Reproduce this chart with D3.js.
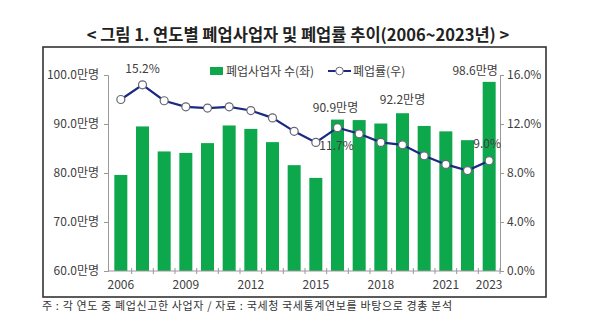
<!DOCTYPE html>
<html><head><meta charset="utf-8">
<script src="https://cdn.jsdelivr.net/npm/d3@7"></script>
<style>body{margin:0;background:#fff;}svg{display:block;font-family:"Noto Sans CJK KR","Noto Sans",sans-serif;}</style>
</head><body><svg id="c" width="600" height="323"></svg>
<script>
const years = [2006,2007,2008,2009,2010,2011,2012,2013,2014,2015,2016,2017,2018,2019,2020,2021,2022,2023];
const closures = [79.6,89.5,84.4,84.1,86.1,89.7,89.0,86.3,81.6,79.0,90.9,90.8,90.1,92.2,89.6,88.5,86.7,98.6];
const rates = [14.0,15.2,13.9,13.4,13.3,13.4,13.1,12.5,11.4,10.5,11.7,11.2,10.5,10.3,9.4,8.7,8.2,9.0];
const leftTicks = [60,70,80,90,100];
const rightTicks = [0,4,8,12,16];
const xTickYears = [2006,2009,2012,2015,2018,2021,2023];
const barLabels = [{year:2016,text:"90.9만명"},{year:2019,text:"92.2만명"},{year:2023,text:"98.6만명"}];
const rateLabels = [{year:2007,text:"15.2%"},{year:2016,text:"11.7%"},{year:2023,text:"9.0%"}];

const svg = d3.select("#c");
const green = "#0ea84c", navy = "#1b2a80", txt = "#404040";

svg.append("text").attr("x",298).attr("y",41).attr("text-anchor","middle")
  .attr("font-size",16.5).attr("font-weight",700).attr("fill","#222")
  .text("< 그림 1. 연도별 폐업사업자 및 폐업률 추이(2006~2023년) >");
svg.append("rect").attr("x",43).attr("y",47).attr("width",503).attr("height",250)
  .attr("fill","none").attr("stroke","#333").attr("stroke-width",1.6);

const x = d3.scaleBand().domain(years).range([110,500]).paddingInner(0.4).paddingOuter(0.2);
const yL = d3.scaleLinear().domain([60,100]).range([271,75]);
const yR = d3.scaleLinear().domain([0,16]).range([271,75]);

svg.append("g").selectAll("rect").data(years).join("rect")
  .attr("x",d=>x(d)).attr("width",x.bandwidth())
  .attr("y",(d,i)=>yL(closures[i])).attr("height",(d,i)=>yL(60)-yL(closures[i]))
  .attr("fill",green);

const axL = svg.append("g").attr("transform","translate(108,0)")
  .call(d3.axisLeft(yL).tickValues(leftTicks).tickSize(4).tickFormat(d=>d.toFixed(1)+"만명"));
const axR = svg.append("g").attr("transform","translate(500,0)")
  .call(d3.axisRight(yR).tickValues(rightTicks).tickSize(4).tickFormat(d=>d.toFixed(1)+"%"));
const axX = svg.append("g").attr("transform","translate(0,271)")
  .call(d3.axisBottom(x).tickValues(xTickYears).tickSize(0).tickPadding(9));
[axL,axR,axX].forEach(a=>{
  a.selectAll("path,line").attr("stroke","#999");
  a.selectAll("text").attr("fill",txt).attr("font-size",12).attr("font-family","'Noto Sans CJK KR',sans-serif");
});
axX.select("path").attr("d","M108,0H500");
axL.selectAll("text").attr("dx",-2);
const step = x.step();
svg.append("g").selectAll("line").data(years).join("line")
  .attr("x1",d=>x(d)+x.bandwidth()/2+step/2).attr("x2",d=>x(d)+x.bandwidth()/2+step/2)
  .attr("y1",268).attr("y2",274).attr("stroke","#999");

const line = d3.line().x((d,i)=>x(years[i])+x.bandwidth()/2).y(d=>yR(d));
svg.append("path").datum(rates).attr("d",line).attr("fill","none").attr("stroke",navy).attr("stroke-width",2.2);
svg.append("g").selectAll("circle").data(rates).join("circle")
  .attr("cx",(d,i)=>x(years[i])+x.bandwidth()/2).attr("cy",d=>yR(d)).attr("r",4)
  .attr("fill","#fff").attr("stroke","#667").attr("stroke-width",1.2);

const lbl = (t,xx,yy,anchor)=>svg.append("text").attr("x",xx).attr("y",yy).attr("text-anchor",anchor||"middle")
  .attr("font-size",12).attr("fill",txt).text(t);
const cx = yr=>x(yr)+x.bandwidth()/2;
lbl(barLabels[0].text, cx(2016)-2, yL(closures[10])-8);
lbl(barLabels[1].text, cx(2019), yL(closures[13])-9);
lbl(barLabels[2].text, cx(2023)-14, yL(closures[17])-7);
lbl(rateLabels[0].text, cx(2007), yR(rates[1])-12);
lbl(rateLabels[1].text, cx(2016)-1, yR(rates[10])+22);
lbl(rateLabels[2].text, cx(2023)-2, yR(rates[17])-13);

svg.append("rect").attr("x",210).attr("y",67).attr("width",13).attr("height",8).attr("fill",green);
svg.append("text").attr("x",226).attr("y",75.5).attr("font-size",12).attr("fill",txt).text("폐업사업자 수(좌)");
svg.append("line").attr("x1",328).attr("x2",351).attr("y1",71).attr("y2",71).attr("stroke",navy).attr("stroke-width",2);
svg.append("circle").attr("cx",339.5).attr("cy",71).attr("r",3.8).attr("fill","#fff").attr("stroke","#667");
svg.append("text").attr("x",353).attr("y",75.5).attr("font-size",12).attr("fill",txt).text("폐업률(우)");

svg.append("text").attr("x",42).attr("y",310).attr("font-size",11).attr("fill","#333")
  .attr("textLength",410).attr("lengthAdjust","spacing")
  .text("주 : 각 연도 중 폐업신고한 사업자 / 자료 : 국세청 국세통계연보를 바탕으로 경총 분석");
</script></body></html>
